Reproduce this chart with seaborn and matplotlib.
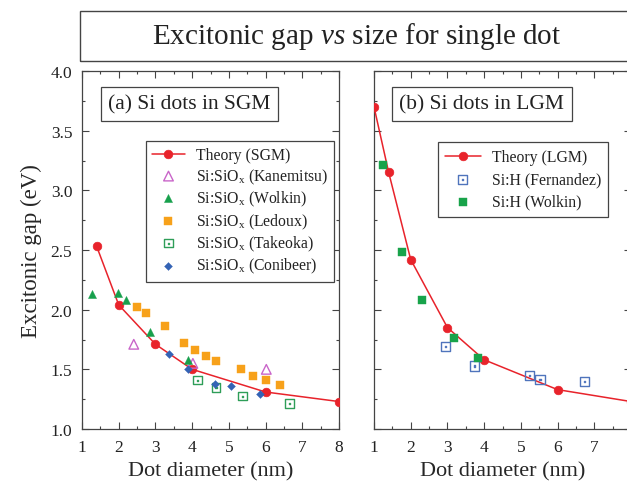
import numpy as np
import matplotlib
matplotlib.use("Agg")
import matplotlib.pyplot as plt
import seaborn as sns
from matplotlib.path import Path
from matplotlib.patches import Rectangle
from matplotlib.ticker import MultipleLocator

# ---------------- data ----------------
# Panel (a): Si dots in SGM
theory_sgm_x = [1.4, 2.0, 3.0, 4.0, 6.0, 8.0]
theory_sgm_y = [2.53, 2.04, 1.71, 1.50, 1.31, 1.23]

kanemitsu_x = [2.41, 4.02, 6.02]
kanemitsu_y = [1.71, 1.55, 1.50]

wolkin_ox_x = [1.27, 1.98, 2.20, 2.84, 3.88]
wolkin_ox_y = [2.13, 2.14, 2.08, 1.81, 1.575]

ledoux_x = [2.50, 2.73, 3.25, 3.77, 4.07, 4.37, 4.66, 5.33, 5.66, 6.02, 6.39]
ledoux_y = [2.02, 1.97, 1.86, 1.72, 1.66, 1.61, 1.57, 1.50, 1.44, 1.41, 1.37]

takeoka_x = [4.15, 4.65, 5.37, 6.65]
takeoka_y = [1.41, 1.35, 1.275, 1.214]

conibeer_x = [3.36, 3.88, 4.62, 5.07, 5.86]
conibeer_y = [1.63, 1.50, 1.38, 1.358, 1.29]

# Panel (b): Si dots in LGM
theory_lgm_x = [1.0, 1.4, 2.0, 3.0, 4.0, 6.0, 8.0]
theory_lgm_y = [3.70, 3.15, 2.42, 1.85, 1.58, 1.33, 1.23]

fernandez_x = [2.95, 3.73, 5.23, 5.52, 6.74]
fernandez_y = [1.694, 1.528, 1.45, 1.417, 1.397]

wolkin_h_x = [1.25, 1.75, 2.32, 3.17, 3.82]
wolkin_h_y = [3.21, 2.48, 2.08, 1.764, 1.594]

x_ticks = [1, 2, 3, 4, 5, 6, 7, 8]
y_ticks = [1.0, 1.5, 2.0, 2.5, 3.0, 3.5, 4.0]
x_labels_a = ["1", "2", "3", "4", "5", "6", "7", "8"]
x_labels_b = ["1", "2", "3", "4", "5", "6", "7", ""]   # "8" falls outside the cropped figure

title_text = "Excitonic gap $\\mathit{vs}$ size for single dot"
panel_a_text = "(a) Si dots in SGM"
panel_b_text = "(b) Si dots in LGM"
xlabel_text = "Dot diameter (nm)"
ylabel_text = "Excitonic gap (eV)"

# ---------------- style ----------------
sns.set_theme(style="ticks")
plt.rcParams['font.family'] = ['Liberation Serif', 'DejaVu Serif']
plt.rcParams['mathtext.fontset'] = 'custom'
plt.rcParams['mathtext.rm'] = 'Liberation Serif'
plt.rcParams['mathtext.it'] = 'Liberation Serif:italic'
plt.rcParams['text.color'] = '#222222'

RED = '#e8232b'
C_KAN = '#c965c9'
C_WOX = '#17a04c'
C_LED = '#f7a11a'
C_TAK = '#2e9e58'
C_CON = '#3463b5'
C_FER = '#4f74bc'
C_WH = '#18a34a'
FRAME = '#444444'

# square with a dot inside
box_dot = Path(
    [(-1, -1), (1, -1), (1, 1), (-1, 1), (-1, -1),
     (-0.12, -0.12), (0.12, -0.12), (0.12, 0.12), (-0.12, 0.12), (-0.12, -0.12)],
    [Path.MOVETO, Path.LINETO, Path.LINETO, Path.LINETO, Path.CLOSEPOLY] * 2)

fig = plt.figure(figsize=(6.27, 4.85), dpi=100)
W, H = 627.0, 485.0
axL = fig.add_axes([82 / W, 55 / H, 257 / W, 358 / H])
axR = fig.add_axes([374 / W, 55 / H, 257 / W, 358 / H])

# title box
fig.add_artist(Rectangle((79.5 / W, (H - 62.3) / H), (640 - 79.5) / W, 50.6 / H,
                         transform=fig.transFigure, fill=False, edgecolor=FRAME, lw=1.0))
fig.text(357 / W, (H - 37) / H, title_text, ha='center', va='center', fontsize=21)


def style_axes(ax, show_ylabels, xlabels):
    ax.set_xlim(1, 8)
    ax.set_ylim(1.0, 4.0)
    ax.set_xticks(x_ticks)
    ax.set_yticks(y_ticks)
    ax.xaxis.set_minor_locator(MultipleLocator(0.5))
    ax.yaxis.set_minor_locator(MultipleLocator(0.25))
    ax.tick_params(which='both', direction='in', top=True, right=True,
                   color=FRAME, width=0.8, labelsize=12.5, labelcolor='#222222', pad=7)
    ax.tick_params(which='major', length=5)
    ax.tick_params(which='minor', length=2.5)
    ax.set_xticklabels(xlabels)
    if show_ylabels:
        ax.set_yticklabels([f"{t:.1f}" for t in y_ticks])
    else:
        ax.tick_params(axis='y', labelleft=False)
    for s in ax.spines.values():
        s.set_visible(True)
        s.set_color(FRAME)
        s.set_linewidth(0.9)
    ax.set_xlabel(xlabel_text, fontsize=16, labelpad=5)


legend_kw = dict(loc='upper left', borderaxespad=0, frameon=True, fancybox=False,
                 edgecolor=FRAME, framealpha=1, fontsize=11.3, handlelength=2.1,
                 handletextpad=0.7, borderpad=0.4, scatterpoints=1, numpoints=1)

# ---- panel (a) ----
sns.lineplot(x=theory_sgm_x, y=theory_sgm_y, ax=axL, color=RED, lw=1.1, marker='o',
             markersize=6.2, markeredgecolor=RED, markeredgewidth=0.5,
             label='Theory (SGM)', sort=False, zorder=3)
sns.scatterplot(x=kanemitsu_x, y=kanemitsu_y, ax=axL, marker='^', s=48, facecolor='none',
                edgecolor=C_KAN, linewidth=1.0, label='Si:SiO$_\\mathrm{x}$ (Kanemitsu)', zorder=4)
sns.scatterplot(x=wolkin_ox_x, y=wolkin_ox_y, ax=axL, marker='^', s=34, color=C_WOX,
                edgecolor=C_WOX, linewidth=0.3, label='Si:SiO$_\\mathrm{x}$ (Wolkin)', zorder=4)
sns.scatterplot(x=ledoux_x, y=ledoux_y, ax=axL, marker='s', s=30, color=C_LED,
                edgecolor=C_LED, linewidth=0.3, label='Si:SiO$_\\mathrm{x}$ (Ledoux)', zorder=4)
sns.scatterplot(x=takeoka_x, y=takeoka_y, ax=axL, marker=box_dot, s=38, facecolor='none',
                edgecolor=C_TAK, linewidth=1.0, label='Si:SiO$_\\mathrm{x}$ (Takeoka)', zorder=4)
sns.scatterplot(x=conibeer_x, y=conibeer_y, ax=axL, marker='D', s=16, color=C_CON,
                edgecolor=C_CON, linewidth=0.3, label='Si:SiO$_\\mathrm{x}$ (Conibeer)', zorder=4)
style_axes(axL, True, x_labels_a)
axL.set_ylabel(ylabel_text, fontsize=16.5, labelpad=6)
hL, lL = axL.get_legend_handles_labels()
axL.legend(hL, lL, bbox_to_anchor=(0.248, 0.804), labelspacing=0.2, **legend_kw)
axL.legend_.get_frame().set_linewidth(0.9)
axL.text(0.419, 0.908, panel_a_text, transform=axL.transAxes, ha='center', va='center',
         fontsize=15.5, bbox=dict(boxstyle='square,pad=0.35', fc='white', ec=FRAME, lw=0.9))

# ---- panel (b) ----
sns.lineplot(x=theory_lgm_x, y=theory_lgm_y, ax=axR, color=RED, lw=1.1, marker='o',
             markersize=6.2, markeredgecolor=RED, markeredgewidth=0.5,
             label='Theory (LGM)', sort=False, zorder=3)
sns.scatterplot(x=fernandez_x, y=fernandez_y, ax=axR, marker=box_dot, s=44, facecolor='none',
                edgecolor=C_FER, linewidth=1.0, label='Si:H (Fernandez)', zorder=4)
sns.scatterplot(x=wolkin_h_x, y=wolkin_h_y, ax=axR, marker='s', s=36, color=C_WH,
                edgecolor=C_WH, linewidth=0.3, label='Si:H (Wolkin)', zorder=4)
style_axes(axR, False, x_labels_b)
axR.set_ylabel('')
hR, lR = axR.get_legend_handles_labels()
axR.legend(hR, lR, bbox_to_anchor=(0.248, 0.801), labelspacing=0.4,
           **{**legend_kw, 'handlelength': 2.3, 'borderpad': 0.45})
axR.legend_.get_frame().set_linewidth(0.9)
axR.text(0.419, 0.908, panel_b_text, transform=axR.transAxes, ha='center', va='center',
         fontsize=15.5, bbox=dict(boxstyle='square,pad=0.35', fc='white', ec=FRAME, lw=0.9))

fig.savefig('out.png', dpi=100)
